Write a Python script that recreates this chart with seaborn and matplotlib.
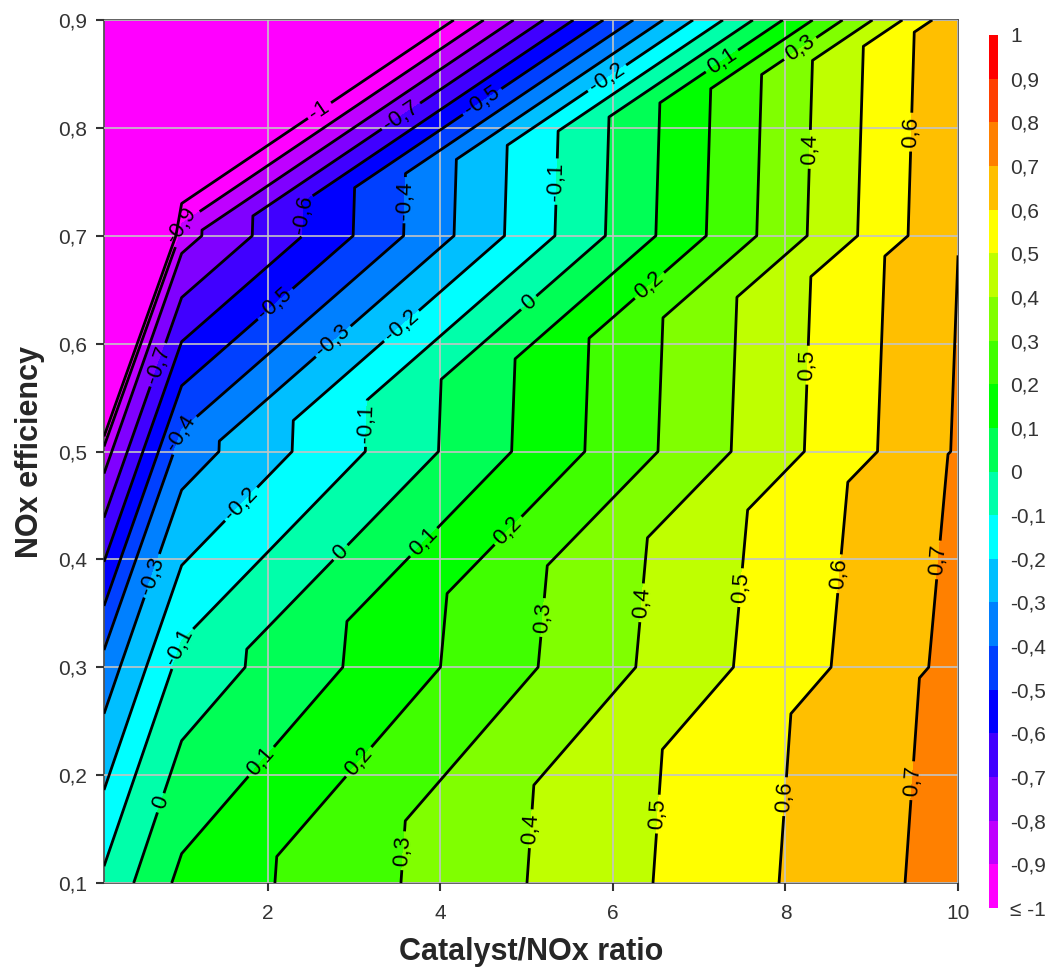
import numpy as np
import pandas as pd
import seaborn as sns
import matplotlib.pyplot as plt
import matplotlib.tri as mtri
from matplotlib.colors import ListedColormap, BoundaryNorm
from matplotlib.cm import ScalarMappable

# measured grid: catalyst/NOx ratio nodes and NOx efficiency rows
ratio_nodes = [0.1, 1.0, 10.0]
efficiency_nodes = [0.1, 0.3, 0.5, 0.7, 0.9]

# response at each efficiency row, one list per ratio node
value_at_ratio_01 = [-0.078, -0.361, -0.85, -3.0, -4.0]
value_at_ratio_1 = [0.126, -0.065, -0.351, -0.84, -1.91]
value_at_ratio_10 = [0.742, 0.73, 0.71, 0.699, 0.686]

levels = np.round(np.arange(-10, 11) / 10, 1)
x_ticks = [2, 4, 6, 8, 10]
y_ticks = [0.1, 0.2, 0.3, 0.4, 0.5, 0.6, 0.7, 0.8, 0.9]

# one colour per 0.1 band, from -1 up to 1
band_colors = ['#ff00ff', '#bf00ff', '#8000ff', '#4000ff', '#0000ff',
               '#0040ff', '#0080ff', '#00bfff', '#00ffff', '#00ffaa',
               '#00ff55', '#00ff00', '#40ff00', '#80ff00', '#bfff00',
               '#ffff00', '#ffbf00', '#ff8000', '#ff4000', '#ff0000']
under_color = '#ff00ff'

# where the inline contour labels sit
label_spots = [
    (2.59, 0.817), (1.0, 0.71), (3.55, 0.81), (2.41, 0.72), (4.47, 0.826),
    (2.05, 0.64), (3.58, 0.733), (2.78, 0.60), (3.51, 0.62), (5.95, 0.844),
    (3.07, 0.526), (5.42, 0.75), (0.74, 0.58), (1.0, 0.517), (0.72, 0.383),
    (1.68, 0.452), (1.0, 0.318), (0.77, 0.174), (2.82, 0.408), (5.0, 0.64),
    (1.9, 0.214), (3.78, 0.418), (7.28, 0.86), (3.0, 0.216), (4.78, 0.427),
    (6.4, 0.656), (3.55, 0.13), (5.2, 0.346), (8.2, 0.87), (5.1, 0.15),
    (6.3, 0.36), (8.32, 0.78), (6.5, 0.164), (7.45, 0.374), (8.26, 0.58),
    (8.0, 0.18), (8.58, 0.387), (9.48, 0.796), (9.44, 0.195), (9.7, 0.40),
]


def comma(v):
    if abs(v - round(v)) < 1e-9:
        return f"{int(round(v))}"
    return f"{v:.1f}".replace('.', ',')


nodes = pd.DataFrame({
    'ratio': np.repeat(ratio_nodes, len(efficiency_nodes)),
    'efficiency': np.tile(efficiency_nodes, len(ratio_nodes)),
    'value': np.concatenate([value_at_ratio_01, value_at_ratio_1, value_at_ratio_10]),
})

# split every grid cell along its lower-left / upper-right diagonal
ny = len(efficiency_nodes)
triangles = []
for i in range(len(ratio_nodes) - 1):
    for j in range(ny - 1):
        a, b = i * ny + j, (i + 1) * ny + j
        c, d = (i + 1) * ny + j + 1, i * ny + j + 1
        triangles.append([a, b, c])
        triangles.append([a, d, c])
tri = mtri.Triangulation(nodes['ratio'], nodes['efficiency'], triangles)

sns.set_style("ticks")
plt.rcParams['font.family'] = ['Liberation Sans', 'DejaVu Sans']

fig = plt.figure(figsize=(10.63, 9.69), dpi=100)
ax = fig.add_axes([104 / 1063, 1 - 883 / 969, 854 / 1063, 863 / 969])

ax.tricontourf(tri, nodes['value'], levels=levels, colors=[under_color] + band_colors,
               extend='min', zorder=1)
lines = ax.tricontour(tri, nodes['value'], levels=levels, colors='black',
                      linewidths=2.0, linestyles='solid', zorder=3)
ax.clabel(lines, fmt=comma, fontsize=16, inline=True, inline_spacing=4,
          manual=label_spots, colors='black')

ax.set_xlim(0.1, 10)
ax.set_ylim(0.1, 0.9)
ax.set_xticks(x_ticks)
ax.set_xticklabels([comma(v) for v in x_ticks])
ax.set_yticks(y_ticks)
ax.set_yticklabels([comma(v) for v in y_ticks])
ax.set_axisbelow(False)
ax.grid(True, color='#c4c4c4', linewidth=1.2)
ax.tick_params(axis='both', length=6, width=1.5, labelsize=15, color='#333333',
               labelcolor='#333333')
ax.tick_params(axis='x', pad=9)
ax.tick_params(axis='y', pad=6.5)
for spine in ax.spines.values():
    spine.set_color('#555555')
    spine.set_linewidth(1.3)

ax.set_xlabel('Catalyst/NOx ratio', fontsize=22, fontweight='bold', labelpad=10)
ax.set_ylabel('NOx efficiency', fontsize=22, fontweight='bold', labelpad=9)

cax = fig.add_axes([989 / 1063, 1 - 908 / 969, 9 / 1063, 873 / 969])
mappable = ScalarMappable(norm=BoundaryNorm(levels, len(band_colors)),
                          cmap=ListedColormap(band_colors))
cbar = fig.colorbar(mappable, cax=cax, ticks=levels)
bar_labels = [comma(v) for v in levels]
bar_labels[0] = '≤ -1'
cbar.ax.set_yticklabels(bar_labels)
cbar.ax.tick_params(length=0, pad=9, labelsize=15, labelcolor='#333333')
cbar.outline.set_visible(False)

plt.savefig('out.png', dpi=100)
